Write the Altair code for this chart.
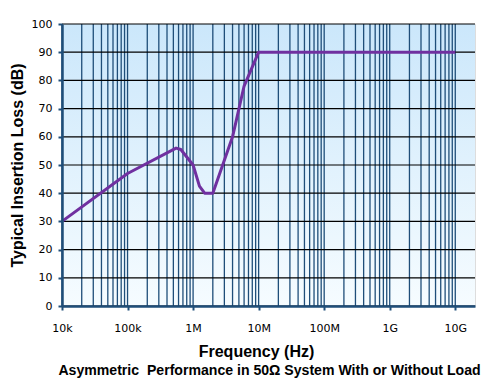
import altair as alt
import pandas as pd

# ---- data ----
freq_hz = [1e4, 1e5, 5.5e5, 6.5e5, 1e6, 1.25e6, 1.5e6, 2e6, 4e6, 6e6, 1e7, 1e10]
loss_db = [30, 47, 56, 55.5, 50, 42.5, 40, 40, 60, 78, 90, 90]

x_ticks = [1e4, 1e5, 1e6, 1e7, 1e8, 1e9, 1e10]
x_tick_labels = ["10k", "100k", "1M", "10M", "100M", "1G", "10G"]
y_ticks = [0, 10, 20, 30, 40, 50, 60, 70, 80, 90, 100]
decades = [1e4, 1e5, 1e6, 1e7, 1e8, 1e9]
multipliers = [1, 2, 3, 4, 5, 6, 7, 8, 9]
grid_x = [m * d for d in decades for m in multipliers] + [1e10]

W, H = 413, 282
NAVY = "#1f4e79"
PURPLE = "#7030a0"

x_scale = alt.Scale(type="log", domain=[1e4, 2e10], nice=False)
y_scale = alt.Scale(domain=[0, 100], nice=False, zero=True)

label_expr = " : ".join(
    f"datum.value == {v:.0f} ? '{t}'" for v, t in zip(x_ticks, x_tick_labels)
) + " : ''"

x_axis = alt.Axis(values=x_ticks, labelExpr=label_expr, title="Frequency (Hz)",
                  grid=False, tickSize=4, tickColor=NAVY, tickWidth=2,
                  domainColor=NAVY, domainWidth=2.5, labelPadding=12,
                  labelFont="DejaVu Sans", labelFontSize=11, labelColor="black",
                  titleFont="Liberation Sans", titleFontSize=16, titleFontWeight="bold",
                  titleColor="black", titleX=194, titleY=50,
                  titleAlign="center", titleBaseline="alphabetic",
                  labelFlush=False, labelOverlap=False, zindex=1)
y_axis = alt.Axis(values=y_ticks, title="Typical Insertion Loss (dB)",
                  grid=False, tickSize=4, tickColor=NAVY, tickWidth=2,
                  domainColor=NAVY, domainWidth=2.5, labelPadding=6,
                  labelFont="DejaVu Sans", labelFontSize=11, labelColor="black",
                  titleFont="Liberation Sans", titleFontSize=16, titleFontWeight="bold",
                  titleColor="black", titleX=-37, titleY=H / 2,
                  titleAlign="center", titleBaseline="bottom", titleAngle=270,
                  labelFlush=False, labelOverlap=False, zindex=1)

bg = alt.Chart(pd.DataFrame({"a": [0]})).mark_rect(
    color=alt.LinearGradient(
        gradient="linear",
        stops=[alt.GradientStop(color="#cbe7fb", offset=0),
               alt.GradientStop(color="#f6fcff", offset=1)],
        x1=0, x2=0, y1=0, y2=1,
    )
).encode(x=alt.value(0), x2=alt.value(W), y=alt.value(0), y2=alt.value(H))

vgrid = alt.Chart(pd.DataFrame({"f": grid_x})).mark_rule(
    color=NAVY, strokeWidth=1.3
).encode(x=alt.X("f:Q", scale=x_scale, axis=x_axis))

hgrid = alt.Chart(pd.DataFrame({"v": y_ticks})).mark_rule(
    color="black", strokeWidth=1.2
).encode(y=alt.Y("v:Q", scale=y_scale, axis=y_axis))

line = alt.Chart(pd.DataFrame({"f": freq_hz, "l": loss_db})).mark_line(
    color=PURPLE, strokeWidth=3, strokeJoin="round"
).encode(
    x=alt.X("f:Q", scale=x_scale, axis=x_axis),
    y=alt.Y("l:Q", scale=y_scale, axis=y_axis),
)

chart = alt.layer(bg, vgrid, hgrid, line).properties(
    width=W, height=H,
    title=alt.TitleParams(
        text="Asymmetric\u00a0 Performance in 50Ω System With or Without Load",
        orient="bottom", anchor="middle", font="Liberation Sans", fontSize=14.1,
        fontWeight="bold", color="black", offset=5, dx=1,
    ),
    autosize=alt.AutoSizeParams(type="none"),
    padding={"left": 54, "top": 16, "right": 7, "bottom": 73},
).configure_view(stroke=NAVY, strokeWidth=1).configure(background="white")

chart.save("out.html", embed_options={"renderer": "svg", "actions": False})
